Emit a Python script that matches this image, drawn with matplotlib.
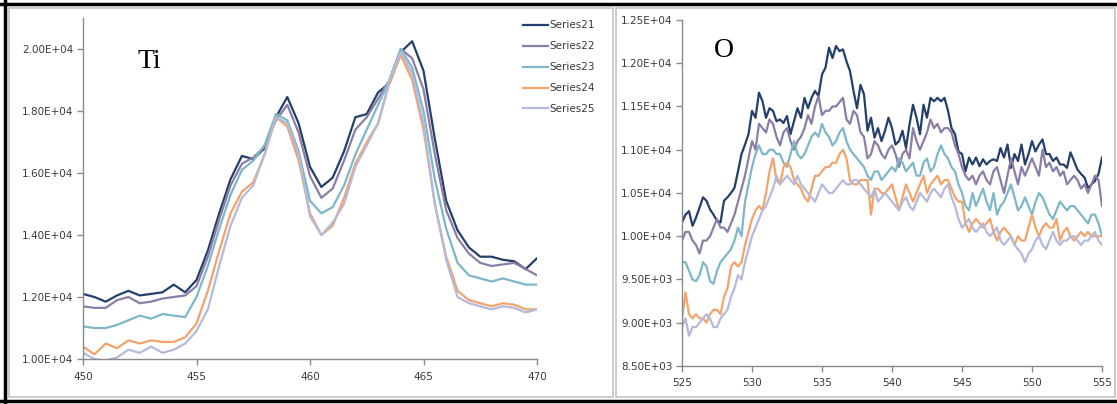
import numpy as np
import matplotlib
matplotlib.use("Agg")
import matplotlib.pyplot as plt
from matplotlib.lines import Line2D
from matplotlib.patches import Rectangle


# Cores das series (estilo Excel)
SERIES_COLORS = ["#253f6b", "#8c7da6", "#7db7c8", "#f3a36b", "#b5b9dc"]
SERIES_NAMES = ["Series21", "Series22", "Series23", "Series24", "Series25"]
COLOR_AXIS = "#8a8a8a"
COLOR_TEXT = "#3a3a3a"
LINE_WIDTH = 1.6

# Espectro Ti 2p (passo de 0.5 eV)
ti_energy = np.arange(450.0, 470.01, 0.5)
ti_s21 = [12100, 12000, 11850, 12050, 12200, 12050, 12100, 12150, 12400, 12150,
          12550, 13500, 14700, 15800, 16550, 16450, 16800, 17800, 18450, 17600,
          16200, 15550, 15850, 16700, 17800, 17900, 18600, 18900, 19900, 20250,
          19300, 17100, 15100, 14150, 13600, 13300, 13300, 13200, 13150, 12900, 13250]
ti_s22 = [11700, 11650, 11650, 11900, 12000, 11800, 11850, 11950, 12000, 12050,
          12350, 13300, 14500, 15600, 16300, 16500, 16850, 17700, 18200, 17300,
          15900, 15200, 15500, 16400, 17400, 17800, 18400, 19000, 20000, 19700,
          18700, 16600, 14800, 13900, 13400, 13100, 13000, 13050, 13100, 12900, 12700]
ti_s23 = [11050, 11000, 11000, 11100, 11250, 11400, 11300, 11450, 11400, 11350,
          12000, 13000, 14200, 15300, 16100, 16400, 16900, 17900, 17700, 16700,
          15100, 14700, 14900, 15600, 16600, 17400, 18200, 19000, 20000, 19400,
          18000, 15800, 14200, 13100, 12700, 12600, 12500, 12600, 12500, 12400, 12400]
ti_s24 = [10400, 10150, 10500, 10350, 10600, 10500, 10600, 10550, 10550, 10700,
          11150, 12200, 13500, 14700, 15400, 15700, 16600, 17800, 17500, 16400,
          14700, 14000, 14300, 15200, 16300, 17000, 17600, 18900, 19800, 19000,
          17400, 15000, 13300, 12200, 11900, 11800, 11700, 11800, 11750, 11600, 11600]
ti_s25 = [10200, 10000, 9950, 10050, 10300, 10200, 10400, 10200, 10300, 10500,
          10900, 11600, 13000, 14300, 15200, 15600, 16600, 17800, 17600, 16600,
          14600, 14000, 14400, 15000, 16200, 16900, 17600, 19000, 19900, 19200,
          17600, 15000, 13200, 12000, 11800, 11700, 11600, 11700, 11650, 11500, 11600]

# Espectro O 1s (passo de 0.25 eV)
o_energy = np.arange(525.0, 555.01, 0.25)
o_s21 = [10160, 10250, 10290, 10120, 10215, 10330, 10450, 10410, 10310, 10250, 10180, 10160,
         10410, 10450, 10500, 10560, 10750, 10950, 11060, 11180, 11450, 11370, 11660, 11560,
         11370, 11480, 11450, 11330, 11350, 11310, 11390, 11180, 11330, 11480, 11370, 11600,
         11480, 11600, 11680, 11620, 11870, 11950, 12180, 12060, 12200, 12140, 12160, 12020,
         11910, 11680, 11480, 11750, 11640, 11220, 11370, 11140, 11250, 11100, 11220, 11370,
         11250, 11060, 11100, 11220, 11020, 11290, 11520, 11370, 11180, 11520, 11370, 11600,
         11560, 11600, 11560, 11600, 11450, 11250, 11180, 10980, 10950, 10750, 10910, 10830,
         10910, 10810, 10890, 10830, 10870, 10890, 10870, 11020, 10910, 11060, 10790, 10950,
         10870, 11060, 10830, 10950, 11100, 10980, 11060, 11120, 10950, 10950, 10870, 10910,
         10830, 10830, 10790, 10970, 10870, 10770, 10720, 10680, 10560, 10600, 10640, 10720,
         10910]
o_s22 = [9950, 10050, 10050, 9950, 9900, 9800, 9950, 9950, 10000, 10100, 10200, 10100,
         10100, 10050, 10150, 10250, 10400, 10550, 10700, 10900, 11100, 11000, 11300, 11250,
         11200, 11350, 11300, 11150, 11050, 11200, 11250, 11100, 11000, 11100, 11150, 11250,
         11400, 11300, 11500, 11620, 11400, 11450, 11450, 11500, 11500, 11550, 11600, 11350,
         11300, 11450, 11400, 11200, 11150, 10900, 10950, 11100, 11050, 10950, 10900, 11000,
         11050, 10950, 10800, 10950, 11000, 10900, 11250, 11100, 11000, 11100, 11200, 11350,
         11250, 11300, 11200, 11250, 11250, 11200, 11050, 10950, 10800, 10700, 10650, 10700,
         10600, 10700, 10750, 10650, 10600, 10750, 10800, 10650, 10500, 10700, 10900, 10750,
         10600, 10800, 10700, 10800, 10900, 10800, 10700, 11000, 10800, 10850, 10750, 10800,
         10700, 10750, 10600, 10650, 10700, 10650, 10550, 10600, 10500, 10600, 10700, 10650,
         10350]
o_s23 = [9700, 9700, 9600, 9500, 9480, 9550, 9700, 9650, 9480, 9450, 9600, 9700,
         9750, 9800, 9850, 9950, 10100, 10000, 10400, 10600, 10800, 10950, 11050, 10950,
         10950, 11000, 11000, 10950, 10950, 10850, 10800, 10950, 11100, 10950, 10900, 10950,
         11050, 11150, 11200, 11150, 11300, 11200, 11150, 11050, 11100, 11200, 11250, 11100,
         11000, 10950, 10900, 10850, 10800, 10700, 10650, 10750, 10750, 10650, 10700, 10750,
         10800, 10750, 10900, 10850, 10750, 10800, 10850, 10700, 10700, 10850, 10900, 10750,
         10800, 10950, 11050, 10950, 10900, 10800, 10750, 10600, 10500, 10350, 10300, 10500,
         10350, 10450, 10550, 10400, 10300, 10500, 10250, 10350, 10400, 10500, 10600, 10450,
         10300, 10350, 10450, 10350, 10250, 10400, 10500, 10450, 10350, 10250, 10200, 10300,
         10400, 10350, 10300, 10350, 10350, 10300, 10250, 10200, 10150, 10250, 10250, 10150,
         10000]
o_s24 = [9050, 9350, 9100, 9050, 9100, 9050, 9050, 9000, 9100, 9150, 9150, 9100,
         9300, 9400, 9650, 9700, 9650, 9700, 9900, 10050, 10200, 10300, 10350, 10300,
         10500, 10750, 10900, 10650, 10600, 10800, 10850, 10800, 10650, 10600, 10550, 10450,
         10400, 10550, 10700, 10700, 10750, 10800, 10800, 10850, 10850, 10950, 11000, 10900,
         10650, 10600, 10600, 10650, 10650, 10650, 10250, 10550, 10550, 10500, 10500, 10550,
         10600, 10450, 10300, 10450, 10600, 10500, 10400, 10500, 10600, 10700, 10500, 10600,
         10650, 10700, 10600, 10650, 10650, 10550, 10450, 10400, 10400, 10150, 10050, 10150,
         10200, 10150, 10100, 10150, 10200, 10050, 9950, 10050, 10100, 10050, 10000, 9900,
         10000, 9950, 9950, 10100, 10250, 10100, 10000, 10100, 10150, 10100, 10100, 10200,
         9950, 10050, 10100, 10000, 9950, 10000, 10050, 10000, 10050, 10000, 10000, 10000,
         10000]
o_s25 = [8950, 9050, 8850, 8950, 8950, 9000, 9050, 9100, 9050, 8950, 8950, 9050,
         9100, 9150, 9300, 9400, 9550, 9500, 9700, 9850, 10000, 10100, 10200, 10300,
         10350, 10450, 10550, 10700, 10600, 10650, 10700, 10650, 10600, 10700, 10600, 10550,
         10500, 10450, 10400, 10500, 10600, 10550, 10500, 10500, 10550, 10600, 10650, 10600,
         10600, 10650, 10650, 10600, 10550, 10500, 10450, 10550, 10400, 10450, 10500, 10450,
         10400, 10350, 10300, 10400, 10450, 10350, 10300, 10400, 10500, 10450, 10400, 10500,
         10550, 10500, 10450, 10550, 10600, 10450, 10350, 10200, 10100, 10150, 10200, 10100,
         10050, 10100, 10150, 10050, 10000, 10050, 10100, 9950, 9900, 9950, 10000, 9900,
         9850, 9800, 9700, 9800, 9850, 9950, 10000, 9900, 9850, 9950, 10050, 9950,
         9900, 9950, 9950, 10000, 10000, 9950, 9900, 9950, 9950, 10000, 10050, 9950,
         9900]

ti_ticks_x = [450, 455, 460, 465, 470]
ti_ticks_y = [10000, 12000, 14000, 16000, 18000, 20000]
o_ticks_x = [525, 530, 535, 540, 545, 550, 555]
o_ticks_y = [8500, 9000, 9500, 10000, 10500, 11000, 11500, 12000, 12500]

W, H = 1117, 404


def fig_box(x0, y0, x1, y1):
    """Converte uma caixa em pixels (origem no topo) para fracao da figura."""
    return [x0 / W, 1 - y1 / H, (x1 - x0) / W, (y1 - y0) / H]


def style_axes(ax, xticks, yticks):
    for side in ("top", "right"):
        ax.spines[side].set_visible(False)
    for side in ("left", "bottom"):
        ax.spines[side].set_color(COLOR_AXIS)
        ax.spines[side].set_linewidth(1.0)
    ax.set_xticks(xticks)
    ax.set_yticks(yticks)
    ax.set_yticklabels([f"{v:.2E}" for v in yticks])
    ax.tick_params(direction="out", length=4, width=1, color=COLOR_AXIS,
                   labelsize=7.5, labelcolor=COLOR_TEXT, pad=3)
    ax.tick_params(axis="x", pad=5)


fig = plt.figure(figsize=(W / 100, H / 100), dpi=100)

# Molduras: borda preta externa e caixas cinza de cada painel
fig.add_artist(Rectangle((9 / W, 1 - 397 / H), (613 - 9) / W, (397 - 8) / H,
                         transform=fig.transFigure, fill=False, edgecolor="#c4c4c4", lw=1.2))
fig.add_artist(Rectangle((616 / W, 1 - 397 / H), (1115 - 616) / W, (397 - 8) / H,
                         transform=fig.transFigure, fill=False, edgecolor="#c4c4c4", lw=1.2))
for xs, ys in (((0, 1), (1 - 3.5 / H, 1 - 3.5 / H)),
               ((4.5 / W, 4.5 / W), (0, 1)),
               ((0, 1), (1 - 401 / H, 1 - 401 / H))):
    fig.add_artist(Line2D(xs, ys, transform=fig.transFigure, color="black", lw=2.5))

# Painel Ti
ax_ti = fig.add_axes(fig_box(83, 18, 537, 359))
ti_series = [ti_s21, ti_s22, ti_s23, ti_s24, ti_s25]
for values, color, name in zip(ti_series, SERIES_COLORS, SERIES_NAMES):
    ax_ti.plot(ti_energy, values, color=color, lw=LINE_WIDTH, label=name)
ax_ti.set_xlim(450, 470)
ax_ti.set_ylim(10000, 21000)
style_axes(ax_ti, ti_ticks_x, ti_ticks_y)
ax_ti.text(452.4, 19400, "Ti", family="Liberation Serif", fontsize=20, color="black")
ax_ti.legend(loc="upper right", bbox_to_anchor=(604 / W, 1 - 11 / H),
             bbox_transform=fig.transFigure, frameon=False, fontsize=7.5,
             handlelength=2.4, handletextpad=0.1, labelspacing=1.05, labelcolor=COLOR_TEXT)

# Painel O
ax_o = fig.add_axes(fig_box(682, 20, 1102, 366))
o_series = [o_s21, o_s22, o_s23, o_s24, o_s25]
for values, color in zip(o_series, SERIES_COLORS):
    ax_o.plot(o_energy, values, color=color, lw=LINE_WIDTH)
ax_o.set_xlim(525, 555)
ax_o.set_ylim(8500, 12500)
style_axes(ax_o, o_ticks_x, o_ticks_y)
ax_o.text(527.3, 12070, "O", family="Liberation Serif", fontsize=20, color="black")

fig.savefig("out.png", dpi=100)
